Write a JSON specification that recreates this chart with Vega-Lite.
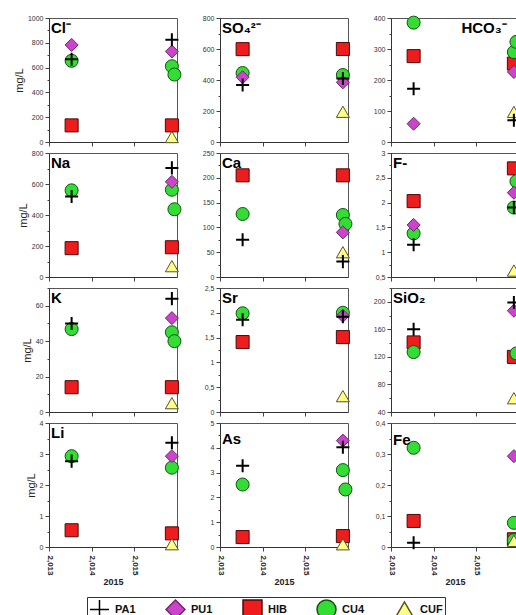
{
"$schema": "https://vega.github.io/schema/vega-lite/v6.json",
"padding": {"left": 12, "top": 13, "right": 0, "bottom": 0},
"background": "white",
"data": {"values": [
{"el":"Cl","st":"HIB","t":2013.53,"v":134},{"el":"Cl","st":"HIB","t":2015.88,"v":134},{"el":"Cl","st":"CU4","t":2013.53,"v":655},{"el":"Cl","st":"CU4","t":2015.88,"v":611},{"el":"Cl","st":"CU4","t":2015.94,"v":544},{"el":"Cl","st":"CUF","t":2015.88,"v":40},{"el":"Cl","st":"PU1","t":2013.53,"v":783},{"el":"Cl","st":"PU1","t":2015.88,"v":730},{"el":"Cl","st":"PA1","t":2013.53,"v":668},{"el":"Cl","st":"PA1","t":2015.88,"v":825},
{"el":"SO4","st":"HIB","t":2013.53,"v":599},{"el":"SO4","st":"HIB","t":2015.88,"v":600},{"el":"SO4","st":"CU4","t":2013.53,"v":445},{"el":"SO4","st":"CU4","t":2015.88,"v":432},{"el":"SO4","st":"CUF","t":2015.88,"v":195},{"el":"SO4","st":"PU1","t":2013.53,"v":418},{"el":"SO4","st":"PU1","t":2015.88,"v":385},{"el":"SO4","st":"PA1","t":2013.53,"v":368},{"el":"SO4","st":"PA1","t":2015.88,"v":410},
{"el":"HCO3","st":"HIB","t":2013.53,"v":277},{"el":"HCO3","st":"HIB","t":2015.88,"v":253},{"el":"HCO3","st":"CU4","t":2013.53,"v":385},{"el":"HCO3","st":"CU4","t":2015.88,"v":290},{"el":"HCO3","st":"CU4","t":2015.94,"v":323},{"el":"HCO3","st":"CUF","t":2015.88,"v":97},{"el":"HCO3","st":"PU1","t":2013.53,"v":59},{"el":"HCO3","st":"PU1","t":2015.88,"v":226},{"el":"HCO3","st":"PA1","t":2013.53,"v":172},{"el":"HCO3","st":"PA1","t":2015.88,"v":70},
{"el":"Na","st":"HIB","t":2013.53,"v":186},{"el":"Na","st":"HIB","t":2015.88,"v":192},{"el":"Na","st":"CU4","t":2013.53,"v":559},{"el":"Na","st":"CU4","t":2015.88,"v":563},{"el":"Na","st":"CU4","t":2015.94,"v":437},{"el":"Na","st":"CUF","t":2015.88,"v":70},{"el":"Na","st":"PU1","t":2015.88,"v":614},{"el":"Na","st":"PA1","t":2013.53,"v":520},{"el":"Na","st":"PA1","t":2015.88,"v":704},
{"el":"Ca","st":"HIB","t":2013.53,"v":205},{"el":"Ca","st":"HIB","t":2015.88,"v":205},{"el":"Ca","st":"CU4","t":2013.53,"v":127},{"el":"Ca","st":"CU4","t":2015.88,"v":125},{"el":"Ca","st":"CU4","t":2015.94,"v":107},{"el":"Ca","st":"CUF","t":2015.88,"v":50},{"el":"Ca","st":"PU1","t":2015.88,"v":90},{"el":"Ca","st":"PA1","t":2013.53,"v":75},{"el":"Ca","st":"PA1","t":2015.88,"v":31},
{"el":"F","st":"HIB","t":2013.53,"v":2.03},{"el":"F","st":"HIB","t":2015.88,"v":2.69},{"el":"F","st":"CU4","t":2013.53,"v":1.38},{"el":"F","st":"CU4","t":2015.88,"v":1.9},{"el":"F","st":"CU4","t":2015.94,"v":2.43},{"el":"F","st":"CUF","t":2015.88,"v":0.63},{"el":"F","st":"PU1","t":2013.53,"v":1.55},{"el":"F","st":"PU1","t":2015.88,"v":2.2},{"el":"F","st":"PA1","t":2013.53,"v":1.15},{"el":"F","st":"PA1","t":2015.88,"v":1.9},
{"el":"K","st":"HIB","t":2013.53,"v":14},{"el":"K","st":"HIB","t":2015.88,"v":14},{"el":"K","st":"CU4","t":2013.53,"v":46.8},{"el":"K","st":"CU4","t":2015.88,"v":45},{"el":"K","st":"CU4","t":2015.94,"v":40},{"el":"K","st":"CUF","t":2015.88,"v":5},{"el":"K","st":"PU1","t":2015.88,"v":53},{"el":"K","st":"PA1","t":2013.53,"v":50},{"el":"K","st":"PA1","t":2015.88,"v":64},
{"el":"Sr","st":"HIB","t":2013.53,"v":1.41},{"el":"Sr","st":"HIB","t":2015.88,"v":1.51},{"el":"Sr","st":"CU4","t":2013.53,"v":1.99},{"el":"Sr","st":"CU4","t":2015.88,"v":2.0},{"el":"Sr","st":"CUF","t":2015.88,"v":0.32},{"el":"Sr","st":"PU1","t":2015.88,"v":1.94},{"el":"Sr","st":"PA1","t":2013.53,"v":1.86},{"el":"Sr","st":"PA1","t":2015.88,"v":1.92},
{"el":"SiO2","st":"HIB","t":2013.53,"v":141},{"el":"SiO2","st":"HIB","t":2015.88,"v":120},{"el":"SiO2","st":"CU4","t":2013.53,"v":127},{"el":"SiO2","st":"CU4","t":2015.94,"v":125},{"el":"SiO2","st":"CUF","t":2015.88,"v":60},{"el":"SiO2","st":"PU1","t":2015.88,"v":187},{"el":"SiO2","st":"PA1","t":2013.53,"v":160},{"el":"SiO2","st":"PA1","t":2015.88,"v":199},
{"el":"Li","st":"HIB","t":2013.53,"v":0.54},{"el":"Li","st":"HIB","t":2015.88,"v":0.44},{"el":"Li","st":"CU4","t":2013.53,"v":2.93},{"el":"Li","st":"CU4","t":2015.88,"v":2.56},{"el":"Li","st":"CUF","t":2015.88,"v":0.09},{"el":"Li","st":"PU1","t":2015.88,"v":2.93},{"el":"Li","st":"PA1","t":2013.53,"v":2.77},{"el":"Li","st":"PA1","t":2015.88,"v":3.36},
{"el":"As","st":"HIB","t":2013.53,"v":0.4},{"el":"As","st":"HIB","t":2015.88,"v":0.44},{"el":"As","st":"CU4","t":2013.53,"v":2.52},{"el":"As","st":"CU4","t":2015.88,"v":3.1},{"el":"As","st":"CU4","t":2015.94,"v":2.32},{"el":"As","st":"CUF","t":2015.88,"v":0.11},{"el":"As","st":"PU1","t":2015.88,"v":4.29},{"el":"As","st":"PA1","t":2013.53,"v":3.28},{"el":"As","st":"PA1","t":2015.88,"v":4.02},
{"el":"Fe","st":"HIB","t":2013.53,"v":0.084},{"el":"Fe","st":"HIB","t":2015.88,"v":0.025},{"el":"Fe","st":"CU4","t":2013.53,"v":0.32},{"el":"Fe","st":"CU4","t":2015.88,"v":0.078},{"el":"Fe","st":"CU4","t":2015.88,"v":0.022},{"el":"Fe","st":"CUF","t":2015.88,"v":0.02},{"el":"Fe","st":"PU1","t":2015.88,"v":0.293},{"el":"Fe","st":"PA1","t":2013.53,"v":0.014}
]},
"columns": 3,
"spacing": {"row": 11, "column": 43},
"bounds": "flush",
"align": "each",
"concat": [
{"width":128,"height":124,"resolve":{"axis":{"y":"independent"}},"layer":[
 {"transform":[{"filter":"datum.el==='Cl'"}],"mark":{"type":"point","size":170,"opacity":1},
  "encoding":{
   "x":{"field":"t","type":"quantitative","scale":{"domain":[2013,2016],"nice":false,"zero":false},"axis":{"values":[2013,2014,2015],"labels":false,"title":null}},
   "y":{"field":"v","type":"quantitative","scale":{"domain":[0,1000],"nice":false},"axis":{"values":[0,200,400,600,800,1000],"labelExpr":"replace(format(datum.value,'~g'),'.',',')","title":"mg/L","orient":"left"}},
   "shape":{"field":"st","type":"nominal","title":null,"scale":{"domain":["PA1","PU1","HIB","CU4","CUF"],"range":["M-1,0H1M0,-1V1","diamond","square","circle","triangle-up"]},"legend":{"orient":"none","legendX":38,"legendY":579,"direction":"horizontal"}},
   "fill":{"field":"st","type":"nominal","title":null,"scale":{"domain":["PA1","PU1","HIB","CU4","CUF"],"range":["transparent","#CC44CC","#EE1C1C","#33DD33","#FFFF88"]}},
   "stroke":{"field":"st","type":"nominal","title":null,"scale":{"domain":["PA1","PU1","HIB","CU4","CUF"],"range":["#000000","#6B2A6B","#4A0A0A","#145214","#55552A"]}},
   "strokeWidth":{"condition":{"test":"datum.st==='PA1'","value":2},"value":1}}},
 {"data":{"values":[{}]},"mark":{"type":"text","text":"Cl⁻","align":"left","baseline":"top","dx":2,"dy":3,"fontSize":15,"fontWeight":"bold","color":"#000"},"encoding":{"x":{"datum":2013},"y":{"datum":1000,"axis":{"orient":"left","values":[100,300,500,700,900],"labels":false,"domain":false,"tickSize":2,"title":null}}}}
]},
{"width":128,"height":124,"resolve":{"axis":{"y":"independent"}},"layer":[
 {"transform":[{"filter":"datum.el==='SO4'"}],"mark":{"type":"point","size":170,"opacity":1},
  "encoding":{
   "x":{"field":"t","type":"quantitative","scale":{"domain":[2013,2016],"nice":false,"zero":false},"axis":{"values":[2013,2014,2015],"labels":false,"title":null}},
   "y":{"field":"v","type":"quantitative","scale":{"domain":[0,800],"nice":false},"axis":{"values":[0,200,400,600,800],"labelExpr":"replace(format(datum.value,'~g'),'.',',')","title":null,"orient":"left"}},
   "shape":{"field":"st","type":"nominal","title":null,"scale":{"domain":["PA1","PU1","HIB","CU4","CUF"],"range":["M-1,0H1M0,-1V1","diamond","square","circle","triangle-up"]},"legend":{"orient":"none","legendX":38,"legendY":579,"direction":"horizontal"}},
   "fill":{"field":"st","type":"nominal","title":null,"scale":{"domain":["PA1","PU1","HIB","CU4","CUF"],"range":["transparent","#CC44CC","#EE1C1C","#33DD33","#FFFF88"]}},
   "stroke":{"field":"st","type":"nominal","title":null,"scale":{"domain":["PA1","PU1","HIB","CU4","CUF"],"range":["#000000","#6B2A6B","#4A0A0A","#145214","#55552A"]}},
   "strokeWidth":{"condition":{"test":"datum.st==='PA1'","value":2},"value":1}}},
 {"data":{"values":[{}]},"mark":{"type":"text","text":"SO₄²⁻","align":"left","baseline":"top","dx":2,"dy":3,"fontSize":15,"fontWeight":"bold","color":"#000"},"encoding":{"x":{"datum":2013},"y":{"datum":800,"axis":{"orient":"left","values":[100,300,500,700],"labels":false,"domain":false,"tickSize":2,"title":null}}}}
]},
{"width":128,"height":124,"resolve":{"axis":{"y":"independent"}},"layer":[
 {"transform":[{"filter":"datum.el==='HCO3'"}],"mark":{"type":"point","size":170,"opacity":1},
  "encoding":{
   "x":{"field":"t","type":"quantitative","scale":{"domain":[2013,2016],"nice":false,"zero":false},"axis":{"values":[2013,2014,2015],"labels":false,"title":null}},
   "y":{"field":"v","type":"quantitative","scale":{"domain":[0,400],"nice":false},"axis":{"values":[0,100,200,300,400],"labelExpr":"replace(format(datum.value,'~g'),'.',',')","title":null,"orient":"left"}},
   "shape":{"field":"st","type":"nominal","title":null,"scale":{"domain":["PA1","PU1","HIB","CU4","CUF"],"range":["M-1,0H1M0,-1V1","diamond","square","circle","triangle-up"]},"legend":{"orient":"none","legendX":38,"legendY":579,"direction":"horizontal"}},
   "fill":{"field":"st","type":"nominal","title":null,"scale":{"domain":["PA1","PU1","HIB","CU4","CUF"],"range":["transparent","#CC44CC","#EE1C1C","#33DD33","#FFFF88"]}},
   "stroke":{"field":"st","type":"nominal","title":null,"scale":{"domain":["PA1","PU1","HIB","CU4","CUF"],"range":["#000000","#6B2A6B","#4A0A0A","#145214","#55552A"]}},
   "strokeWidth":{"condition":{"test":"datum.st==='PA1'","value":2},"value":1}}},
 {"data":{"values":[{}]},"mark":{"type":"text","text":"HCO₃⁻","align":"left","baseline":"top","dx":0,"dy":3,"fontSize":15,"fontWeight":"bold","color":"#000"},"encoding":{"x":{"datum":2014.65},"y":{"datum":400,"axis":{"orient":"left","values":[50,150,250,350],"labels":false,"domain":false,"tickSize":2,"title":null}}}}
]},
{"width":128,"height":124,"resolve":{"axis":{"y":"independent"}},"layer":[
 {"transform":[{"filter":"datum.el==='Na'"}],"mark":{"type":"point","size":170,"opacity":1},
  "encoding":{
   "x":{"field":"t","type":"quantitative","scale":{"domain":[2013,2016],"nice":false,"zero":false},"axis":{"values":[2013,2014,2015],"labels":false,"title":null}},
   "y":{"field":"v","type":"quantitative","scale":{"domain":[0,800],"nice":false},"axis":{"values":[0,200,400,600,800],"labelExpr":"replace(format(datum.value,'~g'),'.',',')","title":"mg/L","orient":"left"}},
   "shape":{"field":"st","type":"nominal","title":null,"scale":{"domain":["PA1","PU1","HIB","CU4","CUF"],"range":["M-1,0H1M0,-1V1","diamond","square","circle","triangle-up"]},"legend":{"orient":"none","legendX":38,"legendY":579,"direction":"horizontal"}},
   "fill":{"field":"st","type":"nominal","title":null,"scale":{"domain":["PA1","PU1","HIB","CU4","CUF"],"range":["transparent","#CC44CC","#EE1C1C","#33DD33","#FFFF88"]}},
   "stroke":{"field":"st","type":"nominal","title":null,"scale":{"domain":["PA1","PU1","HIB","CU4","CUF"],"range":["#000000","#6B2A6B","#4A0A0A","#145214","#55552A"]}},
   "strokeWidth":{"condition":{"test":"datum.st==='PA1'","value":2},"value":1}}},
 {"data":{"values":[{}]},"mark":{"type":"text","text":"Na","align":"left","baseline":"top","dx":2,"dy":3,"fontSize":15,"fontWeight":"bold","color":"#000"},"encoding":{"x":{"datum":2013},"y":{"datum":800,"axis":{"orient":"left","values":[100,300,500,700],"labels":false,"domain":false,"tickSize":2,"title":null}}}}
]},
{"width":128,"height":124,"resolve":{"axis":{"y":"independent"}},"layer":[
 {"transform":[{"filter":"datum.el==='Ca'"}],"mark":{"type":"point","size":170,"opacity":1},
  "encoding":{
   "x":{"field":"t","type":"quantitative","scale":{"domain":[2013,2016],"nice":false,"zero":false},"axis":{"values":[2013,2014,2015],"labels":false,"title":null}},
   "y":{"field":"v","type":"quantitative","scale":{"domain":[0,250],"nice":false},"axis":{"values":[0,50,100,150,200,250],"labelExpr":"replace(format(datum.value,'~g'),'.',',')","title":null,"orient":"left"}},
   "shape":{"field":"st","type":"nominal","title":null,"scale":{"domain":["PA1","PU1","HIB","CU4","CUF"],"range":["M-1,0H1M0,-1V1","diamond","square","circle","triangle-up"]},"legend":{"orient":"none","legendX":38,"legendY":579,"direction":"horizontal"}},
   "fill":{"field":"st","type":"nominal","title":null,"scale":{"domain":["PA1","PU1","HIB","CU4","CUF"],"range":["transparent","#CC44CC","#EE1C1C","#33DD33","#FFFF88"]}},
   "stroke":{"field":"st","type":"nominal","title":null,"scale":{"domain":["PA1","PU1","HIB","CU4","CUF"],"range":["#000000","#6B2A6B","#4A0A0A","#145214","#55552A"]}},
   "strokeWidth":{"condition":{"test":"datum.st==='PA1'","value":2},"value":1}}},
 {"data":{"values":[{}]},"mark":{"type":"text","text":"Ca","align":"left","baseline":"top","dx":2,"dy":3,"fontSize":15,"fontWeight":"bold","color":"#000"},"encoding":{"x":{"datum":2013},"y":{"datum":250,"axis":{"orient":"left","values":[25,75,125,175,225],"labels":false,"domain":false,"tickSize":2,"title":null}}}}
]},
{"width":128,"height":124,"resolve":{"axis":{"y":"independent"}},"layer":[
 {"transform":[{"filter":"datum.el==='F'"}],"mark":{"type":"point","size":170,"opacity":1},
  "encoding":{
   "x":{"field":"t","type":"quantitative","scale":{"domain":[2013,2016],"nice":false,"zero":false},"axis":{"values":[2013,2014,2015],"labels":false,"title":null}},
   "y":{"field":"v","type":"quantitative","scale":{"domain":[0.5,3],"nice":false,"zero":false},"axis":{"values":[0.5,1,1.5,2,2.5,3],"labelExpr":"replace(format(datum.value,'~g'),'.',',')","title":null,"orient":"left"}},
   "shape":{"field":"st","type":"nominal","title":null,"scale":{"domain":["PA1","PU1","HIB","CU4","CUF"],"range":["M-1,0H1M0,-1V1","diamond","square","circle","triangle-up"]},"legend":{"orient":"none","legendX":38,"legendY":579,"direction":"horizontal"}},
   "fill":{"field":"st","type":"nominal","title":null,"scale":{"domain":["PA1","PU1","HIB","CU4","CUF"],"range":["transparent","#CC44CC","#EE1C1C","#33DD33","#FFFF88"]}},
   "stroke":{"field":"st","type":"nominal","title":null,"scale":{"domain":["PA1","PU1","HIB","CU4","CUF"],"range":["#000000","#6B2A6B","#4A0A0A","#145214","#55552A"]}},
   "strokeWidth":{"condition":{"test":"datum.st==='PA1'","value":2},"value":1}}},
 {"data":{"values":[{}]},"mark":{"type":"text","text":"F-","align":"left","baseline":"top","dx":2,"dy":3,"fontSize":15,"fontWeight":"bold","color":"#000"},"encoding":{"x":{"datum":2013},"y":{"datum":3,"axis":{"orient":"left","values":[0.75,1.25,1.75,2.25,2.75],"labels":false,"domain":false,"tickSize":2,"title":null}}}}
]},
{"width":128,"height":124,"resolve":{"axis":{"y":"independent"}},"layer":[
 {"transform":[{"filter":"datum.el==='K'"}],"mark":{"type":"point","size":170,"opacity":1},
  "encoding":{
   "x":{"field":"t","type":"quantitative","scale":{"domain":[2013,2016],"nice":false,"zero":false},"axis":{"values":[2013,2014,2015],"labels":false,"title":null}},
   "y":{"field":"v","type":"quantitative","scale":{"domain":[0,70],"nice":false},"axis":{"values":[0,20,40,60],"labelExpr":"replace(format(datum.value,'~g'),'.',',')","title":"mg/L","orient":"left"}},
   "shape":{"field":"st","type":"nominal","title":null,"scale":{"domain":["PA1","PU1","HIB","CU4","CUF"],"range":["M-1,0H1M0,-1V1","diamond","square","circle","triangle-up"]},"legend":{"orient":"none","legendX":38,"legendY":579,"direction":"horizontal"}},
   "fill":{"field":"st","type":"nominal","title":null,"scale":{"domain":["PA1","PU1","HIB","CU4","CUF"],"range":["transparent","#CC44CC","#EE1C1C","#33DD33","#FFFF88"]}},
   "stroke":{"field":"st","type":"nominal","title":null,"scale":{"domain":["PA1","PU1","HIB","CU4","CUF"],"range":["#000000","#6B2A6B","#4A0A0A","#145214","#55552A"]}},
   "strokeWidth":{"condition":{"test":"datum.st==='PA1'","value":2},"value":1}}},
 {"data":{"values":[{}]},"mark":{"type":"text","text":"K","align":"left","baseline":"top","dx":2,"dy":3,"fontSize":15,"fontWeight":"bold","color":"#000"},"encoding":{"x":{"datum":2013},"y":{"datum":70,"axis":{"orient":"left","values":[10,30,50,70],"labels":false,"domain":false,"tickSize":2,"title":null}}}}
]},
{"width":128,"height":124,"resolve":{"axis":{"y":"independent"}},"layer":[
 {"transform":[{"filter":"datum.el==='Sr'"}],"mark":{"type":"point","size":170,"opacity":1},
  "encoding":{
   "x":{"field":"t","type":"quantitative","scale":{"domain":[2013,2016],"nice":false,"zero":false},"axis":{"values":[2013,2014,2015],"labels":false,"title":null}},
   "y":{"field":"v","type":"quantitative","scale":{"domain":[0,2.5],"nice":false},"axis":{"values":[0,0.5,1,1.5,2,2.5],"labelExpr":"replace(format(datum.value,'~g'),'.',',')","title":null,"orient":"left"}},
   "shape":{"field":"st","type":"nominal","title":null,"scale":{"domain":["PA1","PU1","HIB","CU4","CUF"],"range":["M-1,0H1M0,-1V1","diamond","square","circle","triangle-up"]},"legend":{"orient":"none","legendX":38,"legendY":579,"direction":"horizontal"}},
   "fill":{"field":"st","type":"nominal","title":null,"scale":{"domain":["PA1","PU1","HIB","CU4","CUF"],"range":["transparent","#CC44CC","#EE1C1C","#33DD33","#FFFF88"]}},
   "stroke":{"field":"st","type":"nominal","title":null,"scale":{"domain":["PA1","PU1","HIB","CU4","CUF"],"range":["#000000","#6B2A6B","#4A0A0A","#145214","#55552A"]}},
   "strokeWidth":{"condition":{"test":"datum.st==='PA1'","value":2},"value":1}}},
 {"data":{"values":[{}]},"mark":{"type":"text","text":"Sr","align":"left","baseline":"top","dx":2,"dy":3,"fontSize":15,"fontWeight":"bold","color":"#000"},"encoding":{"x":{"datum":2013},"y":{"datum":2.5,"axis":{"orient":"left","values":[0.25,0.75,1.25,1.75,2.25],"labels":false,"domain":false,"tickSize":2,"title":null}}}}
]},
{"width":128,"height":124,"resolve":{"axis":{"y":"independent"}},"layer":[
 {"transform":[{"filter":"datum.el==='SiO2'"}],"mark":{"type":"point","size":170,"opacity":1},
  "encoding":{
   "x":{"field":"t","type":"quantitative","scale":{"domain":[2013,2016],"nice":false,"zero":false},"axis":{"values":[2013,2014,2015],"labels":false,"title":null}},
   "y":{"field":"v","type":"quantitative","scale":{"domain":[40,220],"nice":false,"zero":false},"axis":{"values":[40,80,120,160,200],"labelExpr":"replace(format(datum.value,'~g'),'.',',')","title":null,"orient":"left"}},
   "shape":{"field":"st","type":"nominal","title":null,"scale":{"domain":["PA1","PU1","HIB","CU4","CUF"],"range":["M-1,0H1M0,-1V1","diamond","square","circle","triangle-up"]},"legend":{"orient":"none","legendX":38,"legendY":579,"direction":"horizontal"}},
   "fill":{"field":"st","type":"nominal","title":null,"scale":{"domain":["PA1","PU1","HIB","CU4","CUF"],"range":["transparent","#CC44CC","#EE1C1C","#33DD33","#FFFF88"]}},
   "stroke":{"field":"st","type":"nominal","title":null,"scale":{"domain":["PA1","PU1","HIB","CU4","CUF"],"range":["#000000","#6B2A6B","#4A0A0A","#145214","#55552A"]}},
   "strokeWidth":{"condition":{"test":"datum.st==='PA1'","value":2},"value":1}}},
 {"data":{"values":[{}]},"mark":{"type":"text","text":"SiO₂","align":"left","baseline":"top","dx":2,"dy":3,"fontSize":15,"fontWeight":"bold","color":"#000"},"encoding":{"x":{"datum":2013},"y":{"datum":220,"axis":{"orient":"left","values":[60,100,140,180,220],"labels":false,"domain":false,"tickSize":2,"title":null}}}}
]},
{"width":128,"height":124,"resolve":{"axis":{"y":"independent"}},"layer":[
 {"transform":[{"filter":"datum.el==='Li'"}],"mark":{"type":"point","size":170,"opacity":1},
  "encoding":{
   "x":{"field":"t","type":"quantitative","scale":{"domain":[2013,2016],"nice":false,"zero":false},"axis":{"values":[2013,2014,2015],"title":"2015"}},
   "y":{"field":"v","type":"quantitative","scale":{"domain":[0,4],"nice":false},"axis":{"values":[0,1,2,3,4],"labelExpr":"replace(format(datum.value,'~g'),'.',',')","title":"mg/L","orient":"left"}},
   "shape":{"field":"st","type":"nominal","title":null,"scale":{"domain":["PA1","PU1","HIB","CU4","CUF"],"range":["M-1,0H1M0,-1V1","diamond","square","circle","triangle-up"]},"legend":{"orient":"none","legendX":38,"legendY":579,"direction":"horizontal"}},
   "fill":{"field":"st","type":"nominal","title":null,"scale":{"domain":["PA1","PU1","HIB","CU4","CUF"],"range":["transparent","#CC44CC","#EE1C1C","#33DD33","#FFFF88"]}},
   "stroke":{"field":"st","type":"nominal","title":null,"scale":{"domain":["PA1","PU1","HIB","CU4","CUF"],"range":["#000000","#6B2A6B","#4A0A0A","#145214","#55552A"]}},
   "strokeWidth":{"condition":{"test":"datum.st==='PA1'","value":2},"value":1}}},
 {"data":{"values":[{}]},"mark":{"type":"text","text":"Li","align":"left","baseline":"top","dx":2,"dy":3,"fontSize":15,"fontWeight":"bold","color":"#000"},"encoding":{"x":{"datum":2013},"y":{"datum":4,"axis":{"orient":"left","values":[0.5,1.5,2.5,3.5],"labels":false,"domain":false,"tickSize":2,"title":null}}}}
]},
{"width":128,"height":124,"resolve":{"axis":{"y":"independent"}},"layer":[
 {"transform":[{"filter":"datum.el==='As'"}],"mark":{"type":"point","size":170,"opacity":1},
  "encoding":{
   "x":{"field":"t","type":"quantitative","scale":{"domain":[2013,2016],"nice":false,"zero":false},"axis":{"values":[2013,2014,2015],"title":"2015"}},
   "y":{"field":"v","type":"quantitative","scale":{"domain":[0,5],"nice":false},"axis":{"values":[0,1,2,3,4,5],"labelExpr":"replace(format(datum.value,'~g'),'.',',')","title":null,"orient":"left"}},
   "shape":{"field":"st","type":"nominal","title":null,"scale":{"domain":["PA1","PU1","HIB","CU4","CUF"],"range":["M-1,0H1M0,-1V1","diamond","square","circle","triangle-up"]},"legend":{"orient":"none","legendX":38,"legendY":579,"direction":"horizontal"}},
   "fill":{"field":"st","type":"nominal","title":null,"scale":{"domain":["PA1","PU1","HIB","CU4","CUF"],"range":["transparent","#CC44CC","#EE1C1C","#33DD33","#FFFF88"]}},
   "stroke":{"field":"st","type":"nominal","title":null,"scale":{"domain":["PA1","PU1","HIB","CU4","CUF"],"range":["#000000","#6B2A6B","#4A0A0A","#145214","#55552A"]}},
   "strokeWidth":{"condition":{"test":"datum.st==='PA1'","value":2},"value":1}}},
 {"data":{"values":[{}]},"mark":{"type":"text","text":"As","align":"left","baseline":"top","dx":2,"dy":9,"fontSize":15,"fontWeight":"bold","color":"#000"},"encoding":{"x":{"datum":2013},"y":{"datum":5,"axis":{"orient":"left","values":[0.5,1.5,2.5,3.5,4.5],"labels":false,"domain":false,"tickSize":2,"title":null}}}}
]},
{"width":128,"height":124,"resolve":{"axis":{"y":"independent"}},"layer":[
 {"transform":[{"filter":"datum.el==='Fe'"}],"mark":{"type":"point","size":170,"opacity":1},
  "encoding":{
   "x":{"field":"t","type":"quantitative","scale":{"domain":[2013,2016],"nice":false,"zero":false},"axis":{"values":[2013,2014,2015],"title":"2015"}},
   "y":{"field":"v","type":"quantitative","scale":{"domain":[0,0.4],"nice":false},"axis":{"values":[0,0.1,0.2,0.3,0.4],"labelExpr":"replace(format(datum.value,'~g'),'.',',')","title":null,"orient":"left"}},
   "shape":{"field":"st","type":"nominal","title":null,"scale":{"domain":["PA1","PU1","HIB","CU4","CUF"],"range":["M-1,0H1M0,-1V1","diamond","square","circle","triangle-up"]},"legend":{"orient":"none","legendX":38,"legendY":579,"direction":"horizontal"}},
   "fill":{"field":"st","type":"nominal","title":null,"scale":{"domain":["PA1","PU1","HIB","CU4","CUF"],"range":["transparent","#CC44CC","#EE1C1C","#33DD33","#FFFF88"]}},
   "stroke":{"field":"st","type":"nominal","title":null,"scale":{"domain":["PA1","PU1","HIB","CU4","CUF"],"range":["#000000","#6B2A6B","#4A0A0A","#145214","#55552A"]}},
   "strokeWidth":{"condition":{"test":"datum.st==='PA1'","value":2},"value":1}}},
 {"data":{"values":[{}]},"mark":{"type":"text","text":"Fe","align":"left","baseline":"top","dx":2,"dy":10,"fontSize":15,"fontWeight":"bold","color":"#000"},"encoding":{"x":{"datum":2013},"y":{"datum":0.4,"axis":{"orient":"left","values":[0.05,0.15,0.25,0.35],"labels":false,"domain":false,"tickSize":2,"title":null}}}}
]}
],
"config": {
 "font": "Liberation Sans",
 "view": {"stroke": "#555", "strokeWidth": 1},
 "axis": {"labelFont": "Liberation Sans", "labelFontSize": 7, "labelColor": "#333", "tickColor": "#444", "domainColor": "#333", "tickSize": 4, "labelPadding": 2, "grid": false, "titleFont": "Liberation Sans", "titleFontSize": 11, "titleFontWeight": "normal", "titleColor": "#222", "titlePadding": 3, "labelOverlap": false, "labelFlush": false},
 "axisX": {"labelAngle": 90, "labelFontWeight": "bold", "labelFontSize": 8, "labelColor": "#222", "labelPadding": 4, "titleFontWeight": "bold", "titleFontSize": 9, "titlePadding": 2},
 "legend": {"labelFont": "Liberation Sans", "labelFontSize": 11, "labelFontWeight": "bold", "labelColor": "#111", "symbolSize": 360, "symbolStrokeWidth": 1.5, "strokeColor": "#333", "fillColor": "white", "padding": 2, "columnPadding": 27, "labelOffset": 5}
}
}
